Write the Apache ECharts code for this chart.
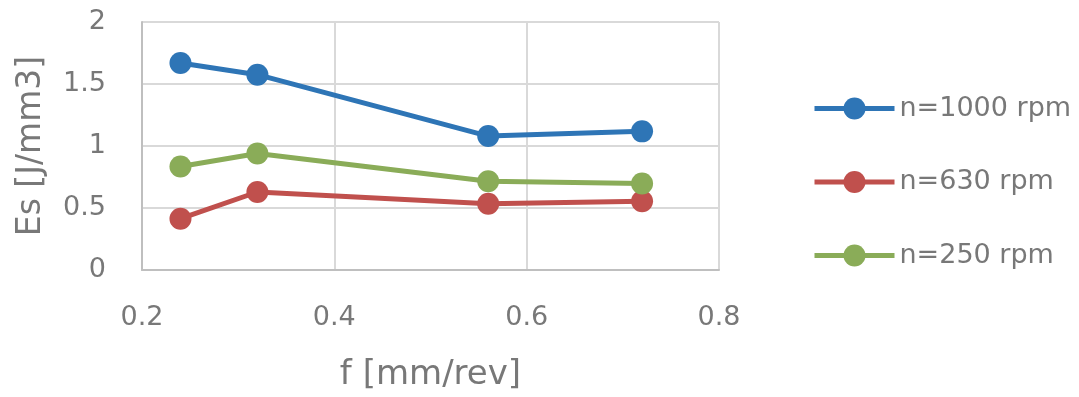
<!DOCTYPE html>
<html><head><meta charset="utf-8">
<script src="https://cdn.jsdelivr.net/npm/echarts@6/dist/echarts.min.js"></script>
<style>html,body{margin:0;padding:0;background:#fff}#c{width:1079px;height:397px}</style>
</head><body><div id="c"></div>
<script>
const feed = [0.24, 0.32, 0.56, 0.72];
const es1000 = [1.67, 1.575, 1.08, 1.118];
const es630 = [0.414, 0.629, 0.535, 0.555];
const es250 = [0.835, 0.94, 0.715, 0.697];
const seriesNames = ['n=1000 rpm', 'n=630 rpm', 'n=250 rpm'];
const colors = ['#2E75B6', '#C0504D', '#8AAC58'];
const xTicks = [0.2, 0.4, 0.6, 0.8];
const yTicks = [0, 0.5, 1, 1.5, 2];

const FONT = '"DejaVu Sans"';
const TXT = '#787878';
function pairs(vals){ return feed.map((f,i)=>[f, vals[i]]); }
const chart = echarts.init(document.getElementById('c'));
const mk = (name, vals, color) => ({
  name, type:'line', data: pairs(vals), symbol:'circle', symbolSize:22,
  lineStyle:{width:5, color}, itemStyle:{color}, z: 3
});
chart.setOption({
  animation:false,
  textStyle:{fontFamily:FONT},
  grid:{left:142, right:360, top:22, bottom:127},
  xAxis:{type:'value', min:xTicks[0], max:xTicks[xTicks.length-1], interval:0.2,
    name:'f [mm/rev]', nameLocation:'middle', nameGap:88,
    nameTextStyle:{fontFamily:FONT, fontSize:34, color:TXT},
    axisLine:{show:true, lineStyle:{color:'#bfbfbf', width:2}},
    axisTick:{show:false},
    splitLine:{show:true, lineStyle:{color:'#d9d9d9', width:2}},
    axisLabel:{fontFamily:FONT, fontSize:27, color:TXT, margin:34, formatter:v=>v.toFixed(1)}
  },
  yAxis:{type:'value', min:yTicks[0], max:yTicks[yTicks.length-1], interval:0.5,
    name:'Es [J/mm3]', nameLocation:'middle', nameGap:94, nameRotate:90,
    nameTextStyle:{fontFamily:FONT, fontSize:33, color:TXT},
    axisLine:{show:true, lineStyle:{color:'#bfbfbf', width:2}},
    axisTick:{show:false},
    splitLine:{show:true, lineStyle:{color:'#d9d9d9', width:2}},
    axisLabel:{fontFamily:FONT, fontSize:27, color:TXT, margin:36}
  },
  legend:{orient:'vertical', left:807, top:90, itemWidth:80, itemHeight:27.5, itemGap:46.5,
    lineStyle:{width:5},
    textStyle:{fontFamily:FONT, fontSize:27, color:TXT},
    data: seriesNames},
  series:[mk(seriesNames[0], es1000, colors[0]), mk(seriesNames[1], es630, colors[1]), mk(seriesNames[2], es250, colors[2])]
});
</script></body></html>
